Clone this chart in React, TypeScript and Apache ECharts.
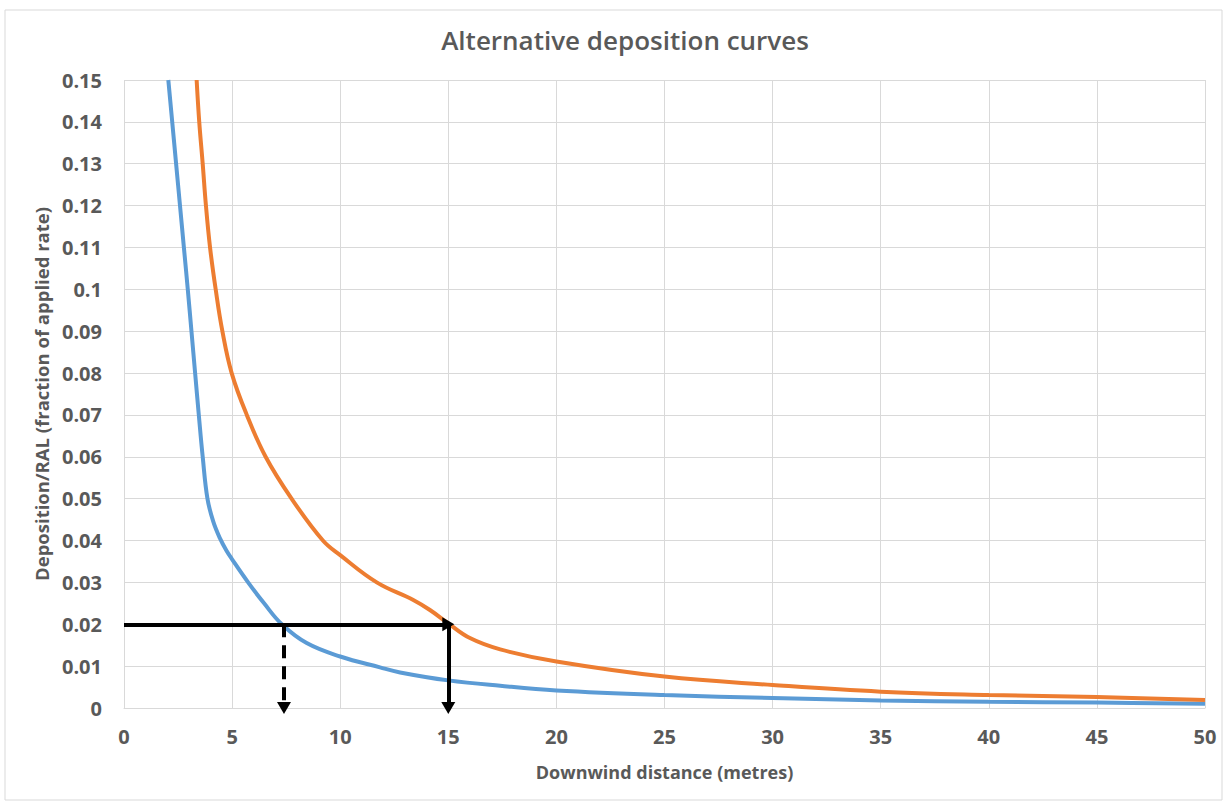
import React, { useEffect, useRef } from "react";
import * as echarts from "echarts";

const chartTitle = "Alternative deposition curves";
const xAxisName = "Downwind distance (metres)";
const yAxisName = "Deposition/RAL (fraction of applied rate)";

// Blue curve
const blueDistance = [2.05, 2.23, 2.41, 2.59, 2.77, 2.95, 3.12, 3.29, 3.46, 3.64, 3.86, 4.13, 4.44, 4.75, 5.0, 5.74, 6.48, 7.3, 8.45, 10, 11.84, 12.77, 15, 17.4, 20, 25, 30, 35, 40, 45, 50];
const blueDeposition = [0.15, 0.14, 0.13, 0.12, 0.11, 0.1, 0.09, 0.08, 0.07, 0.06, 0.05, 0.0445, 0.0405, 0.0375, 0.0355, 0.03, 0.025, 0.02, 0.0155, 0.0123, 0.0097, 0.0085, 0.0066, 0.0053, 0.0042, 0.0031, 0.0024, 0.0018, 0.0015, 0.0013, 0.001];

// Orange curve
const orangeDistance = [3.36, 3.48, 3.64, 3.79, 3.98, 4.24, 4.55, 4.98, 5.68, 6.55, 7.75, 9.2, 10, 11.69, 13.38, 14.15, 15, 16, 17.4, 20, 25, 30, 35, 40, 45, 50];
const orangeDeposition = [0.15, 0.14, 0.13, 0.12, 0.11, 0.1, 0.09, 0.08, 0.07, 0.06, 0.05, 0.04, 0.0365, 0.03, 0.0258, 0.0234, 0.0202, 0.0167, 0.014, 0.0111, 0.0075, 0.0055, 0.0039, 0.0031, 0.0026, 0.0019];

// Arrow annotation
const targetLevel = 0.02;
const blueCrossing = 7.4;
const orangeCrossing = 15;

const TEXT = "#595959";
const GRID = "#D9D9D9";
const FONT = "Open Sans";

export default function App() {
  const ref = useRef<HTMLDivElement>(null);
  useEffect(() => {
    if (!ref.current) return;
    const chart = echarts.init(ref.current, null, { renderer: "svg" });
    const zip = (xs: number[], ys: number[]) => xs.map((x, i) => [x, ys[i]]);
    chart.setOption({
      animation: false,
      backgroundColor: "#ffffff",
      textStyle: { fontFamily: FONT },
      title: {
        text: chartTitle,
        left: 620,
        top: 22,
        textAlign: "center",
        textStyle: { color: TEXT, fontSize: 26, fontWeight: 600, fontFamily: FONT },
      },
      graphic: [
        {
          type: "rect",
          shape: { x: 5, y: 10, width: 1217, height: 790 },
          style: { fill: "none", stroke: GRID, lineWidth: 1 },
          silent: true,
        },
      ],
      grid: { left: 124, right: 22, top: 80, bottom: 95, containLabel: false },
      xAxis: {
        type: "value",
        min: 0,
        max: 50,
        interval: 5,
        name: xAxisName,
        nameLocation: "middle",
        nameGap: 55,
        nameTextStyle: { color: TEXT, fontSize: 18, fontWeight: "bold", fontFamily: FONT },
        axisLine: { show: true, lineStyle: { color: GRID, width: 1 } },
        axisTick: { show: false },
        axisLabel: { color: TEXT, fontSize: 20, fontWeight: "bold", margin: 18, fontFamily: FONT },
        splitLine: { show: true, lineStyle: { color: GRID, width: 1 } },
      },
      yAxis: {
        type: "value",
        min: 0,
        max: 0.15,
        interval: 0.01,
        name: yAxisName,
        nameLocation: "middle",
        nameGap: 73,
        nameTextStyle: { color: TEXT, fontSize: 18.5, fontWeight: "bold", fontFamily: FONT },
        axisLine: { show: false },
        axisTick: { show: false },
        axisLabel: {
          color: TEXT,
          fontSize: 20,
          fontWeight: "bold",
          margin: 22,
          fontFamily: FONT,
          formatter: (v: number) => String(+v.toFixed(2)),
        },
        splitLine: { show: true, lineStyle: { color: GRID, width: 1 } },
      },
      series: [
        {
          type: "line",
          name: "Blue",
          data: zip(blueDistance, blueDeposition),
          smooth: 0.4,
          showSymbol: false,
          lineStyle: { color: "#5B9BD5", width: 4 },
          z: 2,
        },
        {
          type: "line",
          name: "Orange",
          data: zip(orangeDistance, orangeDeposition),
          smooth: 0.4,
          showSymbol: false,
          lineStyle: { color: "#ED7D31", width: 4 },
          z: 2,
        },
        {
          type: "line",
          name: "arrows",
          data: [],
          z: 5,
          markLine: {
            silent: true,
            animation: false,
            symbol: ["none", "triangle"],
            symbolSize: [14, 12],
            label: { show: false },
            lineStyle: { color: "#000000", width: 4, type: "solid" },
            data: [
              [
                { coord: [0, targetLevel], symbol: "none" },
                { coord: [orangeCrossing, targetLevel], symbol: "triangle" },
              ],
              [
                { coord: [orangeCrossing, targetLevel], symbol: "none" },
                { coord: [orangeCrossing, 0], symbol: "triangle" },
              ],
              [
                {
                  coord: [blueCrossing, targetLevel],
                  symbol: "none",
                  lineStyle: { type: [13, 8], width: 4, color: "#000000" },
                },
                { coord: [blueCrossing, 0], symbol: "triangle" },
              ],
            ],
          },
        },
      ],
    });
    return () => chart.dispose();
  }, []);
  return (
    <div
      ref={ref}
      style={{ position: "fixed", left: 0, top: 0, width: 1227, height: 803, background: "#fff" }}
    />
  );
}
